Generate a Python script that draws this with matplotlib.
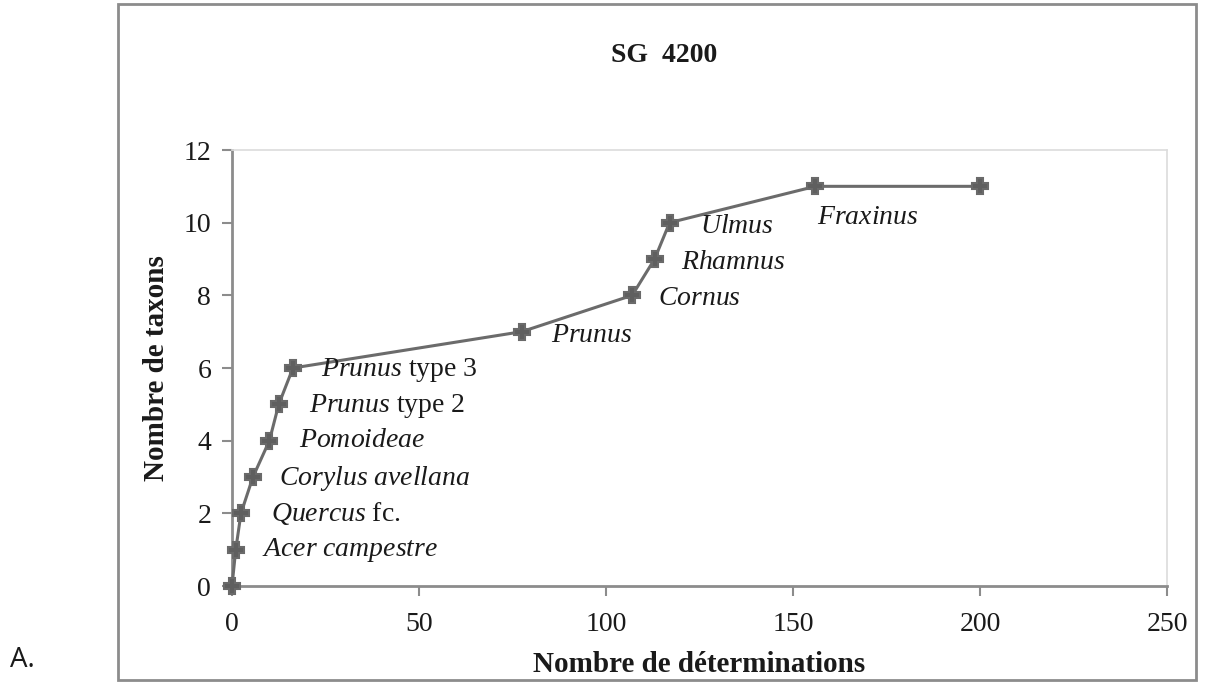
import matplotlib
matplotlib.use("Agg")
import matplotlib.pyplot as plt
from matplotlib.patches import Rectangle

plt.rcParams["mathtext.fontset"] = "custom"
plt.rcParams["mathtext.rm"] = "Liberation Serif"
plt.rcParams["mathtext.it"] = "Liberation Serif:italic"

# Data
determinations = [0, 1, 2.4, 5.6, 10, 12.5, 16.3, 77.5, 107, 113, 117, 156, 200]
taxons = [0, 1, 2, 3, 4, 5, 6, 7, 8, 9, 10, 11, 11]
label_names = [r"$\it{Acer\ campestre}$", r"$\it{Quercus}$ fc.",
               r"$\it{Corylus\ avellana}$", r"$\it{Pomoideae}$",
               r"$\it{Prunus}$ type 2", r"$\it{Prunus}$ type 3", r"$\it{Prunus}$",
               r"$\it{Cornus}$", r"$\it{Rhamnus}$", r"$\it{Ulmus}$", r"$\it{Fraxinus}$"]
label_x = [8, 10.4, 12.6, 17.9, 20.6, 23.8, 85.3, 114, 120, 125, 156.4]
label_y = [1.0, 2.0, 2.97, 4.0, 4.95, 5.95, 6.9, 7.9, 8.9, 9.9, 10.15]
x_ticks = [0, 50, 100, 150, 200, 250]
y_ticks = [0, 2, 4, 6, 8, 10, 12]

serif = ["Liberation Serif", "DejaVu Serif"]
W, H = 1215, 686
fig = plt.figure(figsize=(W / 100, H / 100), dpi=100)
fig.patch.set_facecolor("white")

# outer frame
fig.add_artist(Rectangle((118 / W, 1 - 680 / H), (1196 - 118) / W, (680 - 4) / H,
                         transform=fig.transFigure, fill=False,
                         edgecolor="#8c8c8c", linewidth=2))

ax = fig.add_axes([232 / W, 1 - 586 / H, (1167 - 232) / W, (586 - 150) / H])
ax.plot(determinations, taxons, color="#6b6b6b", linewidth=2.2, marker="P",
        markersize=11, markerfacecolor="#5f5f5f", markeredgecolor="#6a6a6a",
        markeredgewidth=1.5, clip_on=False, zorder=3)

for name, lx, ly in zip(label_names, label_x, label_y):
    ax.text(lx, ly, name, ha="left", va="center", fontsize=20,
            family=serif, color="#1a1a1a")

ax.set_xlim(0, 250)
ax.set_ylim(0, 12)
ax.set_xticks(x_ticks)
ax.set_yticks(y_ticks)
for lab in ax.get_xticklabels() + ax.get_yticklabels():
    lab.set_fontfamily(serif)
    lab.set_fontsize(20)
    lab.set_color("#1a1a1a")
ax.tick_params(axis="both", direction="out", length=7, width=1.5, color="#8c8c8c")
ax.tick_params(axis="x", pad=12)
ax.tick_params(axis="y", pad=8)
for s in ["left", "bottom"]:
    ax.spines[s].set_color("#8c8c8c")
    ax.spines[s].set_linewidth(2)
for s in ["top", "right"]:
    ax.spines[s].set_color("#dcdcdc")
    ax.spines[s].set_linewidth(1.2)

ax.set_xlabel("Nombre de déterminations", fontsize=21, fontweight="bold",
              family=serif, labelpad=10, color="#1a1a1a")
ax.set_ylabel("Nombre de taxons", fontsize=21, fontweight="bold",
              family=serif, labelpad=10, color="#1a1a1a")

fig.text(664 / W, 1 - 55 / H, "SG  4200", ha="center", va="center", fontsize=20,
         fontweight="bold", family=serif, color="#1a1a1a")
fig.text(10 / W, 1 - 660 / H, "A.", ha="left", va="center", fontsize=20,
         family=["Open Sans", "DejaVu Sans"], color="#1a1a1a")

fig.savefig("out.png", dpi=100, facecolor="white")
